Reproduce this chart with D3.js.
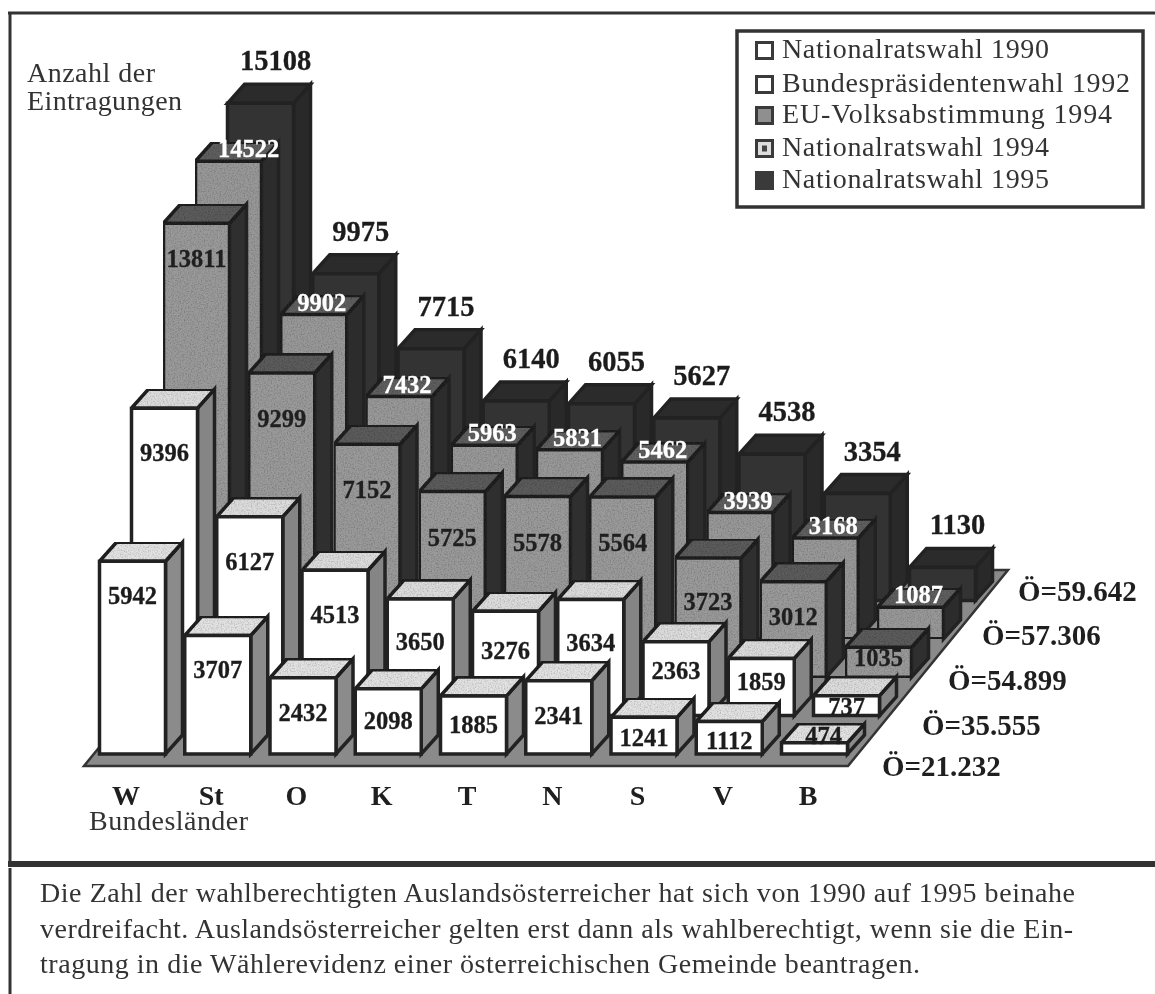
<!DOCTYPE html>
<html lang="de">
<head>
<meta charset="utf-8">
<script src="https://cdn.jsdelivr.net/npm/d3@7"></script>
<style>
html,body{margin:0;padding:0;background:#fff;overflow:hidden}
svg{display:block;filter:blur(0.45px)}
text{font-family:"Liberation Serif","Times New Roman",serif}
</style>
</head>
<body>
<svg id="c" width="1155" height="994"></svg>
<script>
const states = ["W","St","O","K","T","N","S","V","B"];
const elections = ["Nationalratswahl 1990","Bundespräsidentenwahl 1992","EU-Volksabstimmung 1994","Nationalratswahl 1994","Nationalratswahl 1995"];
const nr1990 = [5942,3707,2432,2098,1885,2341,1241,1112,474];
const bp1992 = [9396,6127,4513,3650,3276,3634,2363,1859,737];
const eu1994 = [13811,9299,7152,5725,5578,5564,3723,3012,1035];
const nr1994 = [14522,9902,7432,5963,5831,5462,3939,3168,1087];
const nr1995 = [15108,9975,7715,6140,6055,5627,4538,3354,1130];
const totals = ["Ö=21.232","Ö=35.555","Ö=54.899","Ö=57.306","Ö=59.642"];
const rows = [nr1990,bp1992,eu1994,nr1994,nr1995];

const svg = d3.select("#c");
const defs = svg.append("defs");
const grain = defs.append("filter").attr("id","grain").attr("x",0).attr("y",0).attr("width",1).attr("height",1);
grain.append("feTurbulence").attr("type","fractalNoise").attr("baseFrequency",0.7).attr("numOctaves",2).attr("seed",4).attr("result","n");
grain.append("feColorMatrix").attr("in","n").attr("type","matrix")
  .attr("values","0 0 0 0 0  0 0 0 0 0  0 0 0 0 0  0.9 0 0 0 -0.38").attr("result","d");
grain.append("feComposite").attr("in","d").attr("in2","SourceGraphic").attr("operator","in").attr("result","dc");
grain.append("feMerge").selectAll("feMergeNode").data(["SourceGraphic","dc"]).join("feMergeNode").attr("in",d=>d);

const INK = "#222";
const x = d3.scalePoint().domain(states).range([99, 99+8*85.25]);
const rowX = d3.scalePoint().domain(d3.range(5)).range([0,128]);
const rowY = d3.scalePoint().domain(d3.range(5)).range([0,153.6]);
const h = d3.scaleLinear().domain([0,15108]).range([0,501.6]);
const W = 66, DX = 17, DY = 19;
const palette = [
  {front:"#ffffff",side:"#8b8b8b",top:"#e2e2e2",grain:false,text:"#1c1c1c"},
  {front:"#ffffff",side:"#858585",top:"#dcdcdc",grain:false,text:"#1c1c1c"},
  {front:"#9a9a9a",side:"#2f2f2f",top:"#5c5c5c",grain:true,text:"#1f1f1f"},
  {front:"#989898",side:"#2c2c2c",top:"#5e5e5e",grain:true,text:"#fff"},
  {front:"#333333",side:"#292929",top:"#2b2b2b",grain:false,text:"#1c1c1c"}
];
const poly = pts => pts.map(p=>p.join(",")).join(" ");

// frame
const frame = svg.append("g").attr("stroke","#333").attr("fill","none");
frame.append("line").attr("x1",8).attr("x2",1155).attr("y1",13).attr("y2",13).attr("stroke-width",3);
frame.append("line").attr("x1",10).attr("x2",10).attr("y1",13).attr("y2",862).attr("stroke-width",3);
frame.append("line").attr("x1",8).attr("x2",1155).attr("y1",864).attr("y2",864).attr("stroke-width",6);
frame.append("line").attr("x1",10).attr("x2",10).attr("y1",868).attr("y2",994).attr("stroke-width",3);

// floor
svg.append("polygon")
  .attr("points",poly([[84,766],[848,766],[1008,570],[244,570]]))
  .attr("fill","#8a8a8a").attr("stroke","#343434").attr("stroke-width",2.5).attr("stroke-linejoin","miter");

// bars, back row first
d3.range(4,-1,-1).forEach(r=>{
  const pal = palette[r];
  const g = svg.append("g");
  rows[r].forEach((v,i)=>{
    const s = states[i];
    const x0 = x(s)+rowX(r)+0.5, x1 = x0+W;
    const yt = 757-rowY(r)-h(v)+1.5, yb = 755-rowY(r)-1;
    const b = g.append("g").attr("stroke",INK).attr("stroke-width",3.5).attr("stroke-linejoin","miter");
    b.append("polygon").attr("points",poly([[x1,yt],[x1+DX,yt-DY],[x1+DX,yb-DY],[x1,yb]])).attr("fill",pal.side);
    b.append("polygon").attr("points",poly([[x0,yt],[x0+DX,yt-DY],[x1+DX,yt-DY],[x1,yt]])).attr("fill",pal.top)
      .attr("filter",pal.grain||r<2?"url(#grain)":null);
    b.append("polygon").attr("points",poly([[x0,yt],[x1,yt],[x1,yb],[x0,yb]])).attr("fill",pal.front)
      .attr("filter",pal.grain?"url(#grain)":null);

    const hh = yb-yt, cx = (x0+x1)/2;
    let lx = cx, ly, size = 24.5, fill = pal.text;
    if(r===4){ lx = cx+15; ly = yt-42+9; size = 28.5; }
    else if(r===3){ lx = cx+(v>=10000?20:8); ly = yt-12+8; }
    else if(hh<17){ lx = cx+9; ly = yt-7+8; }
    else {
      let drop;
      if(r===0) drop = Math.min(35, 0.4*hh+6);
      else if(r===1) drop = Math.min(45, 0.33*hh+5);
      else drop = v>10000 ? 36 : Math.min(46, 0.37*hh);
      ly = yt+drop+8;
    }
    g.append("text").attr("x",lx).attr("y",ly).attr("text-anchor","middle")
      .attr("font-size",size).attr("font-weight","bold").attr("fill",fill)
      .attr("stroke",fill).attr("stroke-width",0.3).text(v);
  });
});

// category labels
svg.append("g").selectAll("text").data(states).join("text")
  .attr("x",d=>x(d)+27).attr("y",805).attr("text-anchor","middle")
  .attr("font-size",28).attr("font-weight","bold").attr("fill","#1f1f1f").text(d=>d);

// totals
svg.append("g").selectAll("text").data(totals).join("text")
  .attr("x",(d,i)=>[882,922,948,982,1018][i]).attr("y",(d,i)=>[776,735,690,645,601][i])
  .attr("font-size",29).attr("font-weight","bold").attr("fill","#1f1f1f").text(d=>d);

// axis captions
const cap = (t,xp,yp,len,size=28)=>svg.append("text").attr("x",xp).attr("y",yp).attr("font-size",size)
  .attr("fill","#333").attr("textLength",len).attr("lengthAdjust","spacing").text(t);
cap("Anzahl der",27,82,128);
cap("Eintragungen",27,110,155);
cap("Bundesländer",89,830,159);

// legend
const lg = svg.append("g");
lg.append("rect").attr("x",737).attr("y",31).attr("width",406).attr("height",176)
  .attr("fill","#fff").attr("stroke","#333").attr("stroke-width",3.5);
const legendBase = [58,92,123,156,188];
const legendLen = [267,348,330,267,267];
const swFill = ["#fff","#fff","#8f8f8f","#ddd","#3a3a3a"];
elections.forEach((e,i)=>{
  const y0 = legendBase[i]-15.5;
  lg.append("rect").attr("x",756.5).attr("y",y0).attr("width",16).attr("height",16)
    .attr("fill",swFill[i]).attr("stroke","#3a3a3a").attr("stroke-width",3);
  if(i===3) lg.append("rect").attr("x",762).attr("y",y0+5).attr("width",5).attr("height",6).attr("fill","#444");
  lg.append("text").attr("x",782).attr("y",legendBase[i]).attr("font-size",28).attr("fill","#333")
    .attr("textLength",legendLen[i]).attr("lengthAdjust","spacing").text(e);
});

// caption
const notes = [
  ["Die Zahl der wahlberechtigten Auslandsösterreicher hat sich von 1990 auf 1995 beinahe",1035,902],
  ["verdreifacht. Auslandsösterreicher gelten erst dann als wahlberechtigt, wenn sie die Ein-",1033,938],
  ["tragung in die Wählerevidenz einer österreichischen Gemeinde beantragen.",880,973]
];
notes.forEach(n=>cap(n[0],40,n[2],n[1],28));
</script>
</body>
</html>
